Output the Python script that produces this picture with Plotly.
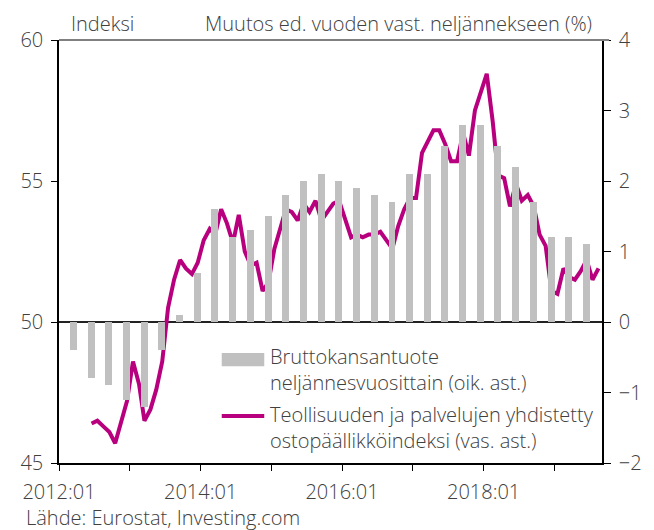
import pandas as pd
import plotly.graph_objects as go

# ---- Data ----
# Quarterly GDP growth y/y (%), 2012Q1 .. 2019Q2 (right axis)
gdp_quarters = [f"{y}Q{q}" for y in range(2012, 2020) for q in range(1, 5)][:30]
gdp_growth = [-0.4, -0.8, -0.9, -1.1, -1.2, -0.4, 0.1, 0.7,
              1.6, 1.2, 1.3, 1.5, 1.8, 2.0, 2.1, 2.0,
              1.9, 1.8, 1.7, 2.1, 2.1, 2.5, 2.8, 2.8,
              2.5, 2.2, 1.7, 1.2, 1.2, 1.1]

# Composite PMI (index), monthly 2012-06 .. 2019-08 (left axis)
pmi_start = "2012-06"
pmi_values = [46.4, 46.5, 46.3, 46.1, 45.7, 46.5, 47.2,          # 2012 Jun-Dec
              48.6, 47.8, 46.5, 46.9, 47.6, 48.6, 50.5, 51.5, 52.2, 51.9, 51.7, 52.1,  # 2013
              52.9, 53.3, 53.1, 54.0, 53.5, 52.8, 53.8, 52.5, 52.0, 52.1, 51.1, 51.4,  # 2014
              52.6, 53.3, 54.0, 53.9, 53.6, 54.2, 53.9, 54.3, 53.6, 53.9, 54.2, 54.3,  # 2015
              53.6, 53.0, 53.1, 53.0, 53.1, 53.1, 53.2, 52.9, 52.6, 53.4, 54.0, 54.4,  # 2016
              54.4, 56.0, 56.4, 56.8, 56.8, 56.3, 55.7, 55.7, 56.7, 55.9, 57.5, 58.1,  # 2017
              58.8, 57.1, 55.2, 55.1, 54.1, 54.9, 54.3, 54.5, 54.1, 53.1, 52.7, 51.1,  # 2018
              51.0, 51.9, 51.6, 51.5, 51.8, 52.2, 51.5, 51.9]                           # 2019

x_tick_years = list(range(2012, 2020))
x_tick_labels = ["2012:01", "", "2014:01", "", "2016:01", "", "2018:01", ""]

gdp_name = "Bruttokansantuote<br>neljännesvuosittain (oik. ast.)"
pmi_name = "Teollisuuden ja palvelujen yhdistetty<br>ostopäällikköindeksi (vas. ast.)"

# ---- Derived x positions ----
def quarter_date(qs):
    y, q = int(qs[:4]), int(qs[-1])
    return pd.Timestamp(year=y, month=3 * q, day=15)

gdp_dates = [quarter_date(q) for q in gdp_quarters]
pmi_dates = [d + pd.Timedelta(days=16) for d in
             pd.date_range(pmi_start, periods=len(pmi_values), freq="MS")]
tickvals = [pd.Timestamp(year=y, month=1, day=1) for y in x_tick_years]

FONT = "'Open Sans', 'Noto Sans', sans-serif"
TXT = "#404040"
BAR = "#c0c0c0"
LINE = "#b8007e"
FS = 20

fig = go.Figure()
fig.add_trace(go.Bar(x=gdp_dates, y=gdp_growth, yaxis="y2", name=gdp_name,
                     marker=dict(color=BAR, line=dict(width=0)),
                     width=36 * 86400000, showlegend=False))
fig.add_trace(go.Scatter(x=pmi_dates, y=pmi_values, yaxis="y", name=pmi_name,
                         mode="lines", line=dict(color=LINE, width=4),
                         showlegend=False))

# page body has an 8px margin: figure is 646x522 placed at (8, 8)
fig.update_layout(
    width=646, height=522,
    margin=dict(l=49, r=39, t=32, b=67),
    paper_bgcolor="white", plot_bgcolor="white",
    font=dict(family=FONT, size=FS, color=TXT, weight=300),
    xaxis=dict(type="date", range=["2012-01-01", "2019-09-04"],
               tickvals=tickvals, ticktext=x_tick_labels,
               ticks="outside", ticklen=6, tickcolor="black", tickwidth=1,
               showline=True, linecolor="black", linewidth=1.5,
               showgrid=False, zeroline=False, ticklabelstandoff=4),
    yaxis=dict(range=[45, 60], tickvals=[45, 50, 55, 60],
               ticks="outside", ticklen=6, tickcolor="black",
               showline=True, linecolor="black", linewidth=1.5,
               showgrid=False, zeroline=False, ticklabelstandoff=4),
    yaxis2=dict(range=[-2, 4], tickvals=[-2, -1, 0, 1, 2, 3, 4],
                overlaying="y", side="right",
                ticks="outside", ticklen=7, tickcolor="black",
                showline=True, linecolor="black", linewidth=1.5,
                showgrid=False, zeroline=True, zerolinecolor="#222222",
                zerolinewidth=2, ticklabelstandoff=4),
    bargap=0,
)

# top border line
fig.add_shape(type="line", xref="paper", yref="paper", x0=0, x1=1.013, y0=1, y1=1,
              line=dict(color="#808080", width=2))

# manual legend
fig.add_shape(type="rect", xref="paper", yref="paper",
              x0=0.2997, x1=0.378, y0=0.229, y1=0.26,
              fillcolor=BAR, line=dict(width=0))
fig.add_shape(type="line", xref="paper", yref="paper",
              x0=0.2997, x1=0.378, y0=0.111, y1=0.111,
              line=dict(color=LINE, width=4))
fig.add_annotation(xref="paper", yref="paper", x=0.385, y=0.22,
                   xanchor="left", yanchor="middle", align="left",
                   text=gdp_name, showarrow=False)
fig.add_annotation(xref="paper", yref="paper", x=0.385, y=0.083,
                   xanchor="left", yanchor="middle", align="left",
                   text=pmi_name, showarrow=False)

# axis titles and source
fig.add_annotation(xref="paper", yref="paper", x=0.018, y=1.04,
                   xanchor="left", yanchor="middle", text="Indeksi", showarrow=False)
fig.add_annotation(xref="paper", yref="paper", x=0.986, y=1.04,
                   xanchor="right", yanchor="middle",
                   text="Muutos ed. vuoden vast. neljännekseen (%)", showarrow=False)
fig.add_annotation(xref="paper", yref="paper", x=-0.064, y=-0.13,
                   xanchor="left", yanchor="middle",
                   text="Lähde: Eurostat, Investing.com", showarrow=False)

fig.write_html("out.html")
